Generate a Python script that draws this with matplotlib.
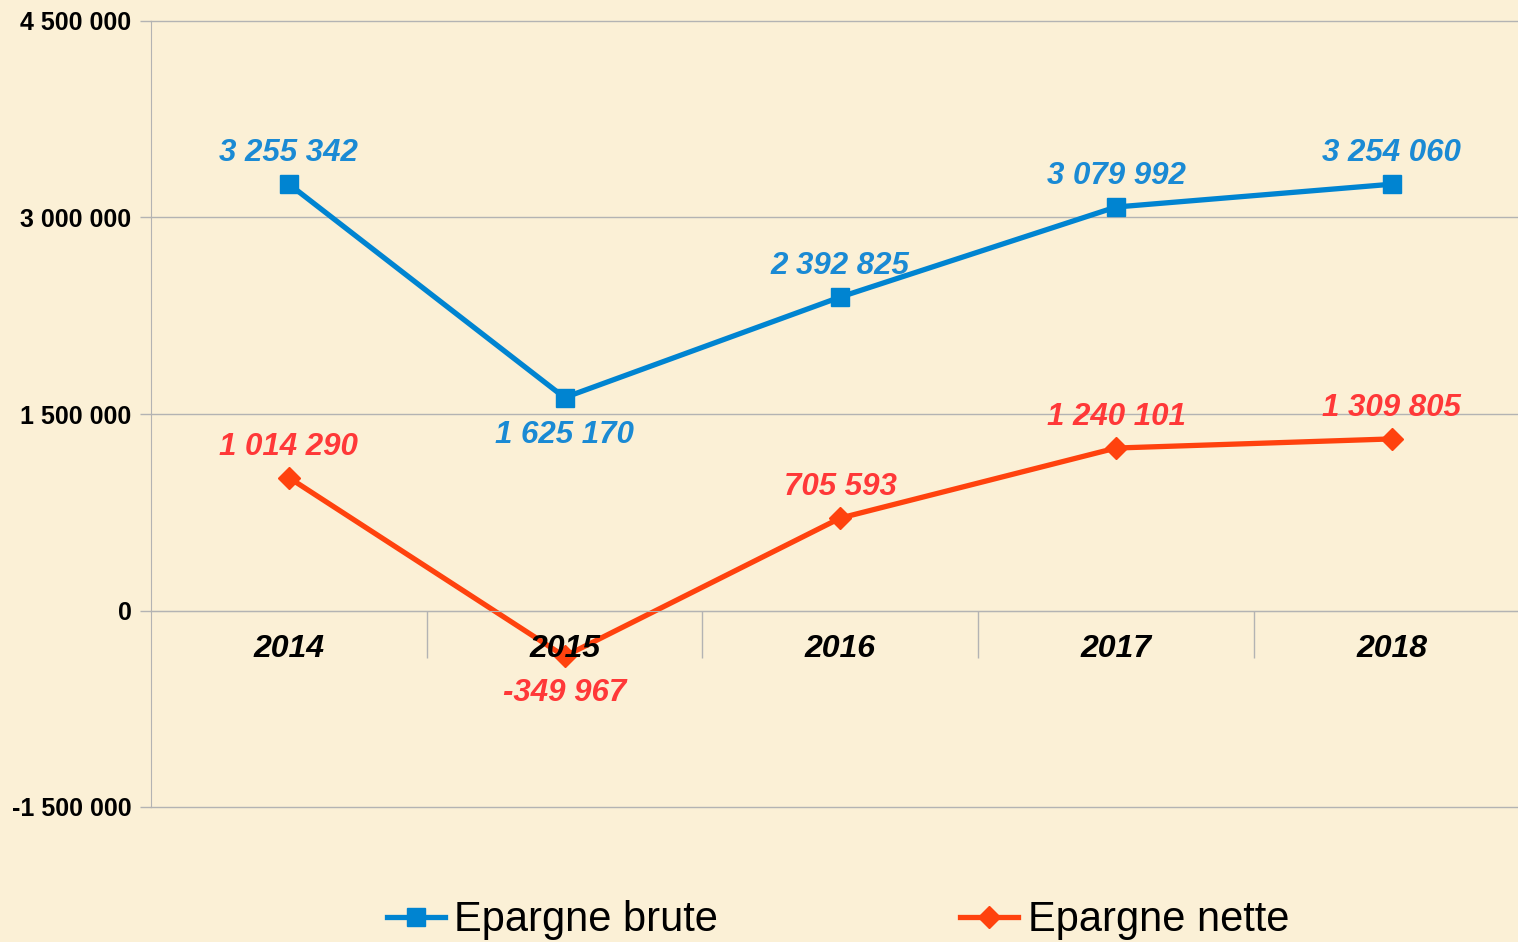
import matplotlib
matplotlib.use("Agg")
import matplotlib.pyplot as plt
from matplotlib.ticker import FuncFormatter, FixedLocator

# donnees
annees = ["2014", "2015", "2016", "2017", "2018"]
epargne_brute = [3255342, 1625170, 2392825, 3079992, 3254060]
epargne_nette = [1014290, -349967, 705593, 1240101, 1309805]
# position des etiquettes: 1 = au-dessus, -1 = en dessous
pos_brute = [1, -1, 1, 1, 1]
pos_nette = [1, -1, 1, 1, 1]
graduations = [-1500000, 0, 1500000, 3000000, 4500000]

plt.rcParams['font.family'] = ['Liberation Sans', 'DejaVu Sans']

FOND = '#fbf0d6'
GRIS = '#b3b3b3'
BLEU = '#0084d1'
BLEU_TXT = '#1a8ad4'
ROUGE = '#ff420e'
ROUGE_TXT = '#ff3838'


def milliers(v, _pos=None):
    return f"{v:,.0f}".replace(",", " ")


def decalage(p):
    # les chiffres n'ont pas de jambage: on compense le centrage vertical
    return 22.3 if p > 0 else -26.7


fig = plt.figure(figsize=(15.18, 9.42), dpi=100, facecolor=FOND)
ax = fig.add_axes([151 / 1518, 1 - 807 / 942, (1518 - 151) / 1518, (807 - 21) / 942])
ax.set_facecolor('none')

x = list(range(len(annees)))
l1, = ax.plot(x, epargne_brute, color=BLEU, lw=3.8, marker='s', ms=13.5,
              label='Epargne brute', zorder=2)
l2, = ax.plot(x, epargne_nette, color=ROUGE, lw=3.8, marker='D', ms=11,
              label='Epargne nette', zorder=2)

for xi, v, p in zip(x, epargne_brute, pos_brute):
    ax.annotate(milliers(v), (xi, v), xytext=(0, decalage(p)), textcoords='offset points',
                ha='center', va='center', fontsize=22.5, fontweight='bold',
                fontstyle='italic', color=BLEU_TXT)
for xi, v, p in zip(x, epargne_nette, pos_nette):
    ax.annotate(milliers(v), (xi, v), xytext=(0, decalage(p)), textcoords='offset points',
                ha='center', va='center', fontsize=22.5, fontweight='bold',
                fontstyle='italic', color=ROUGE_TXT)

ax.set_xlim(-0.5, -0.5 + (1518 - 151) / 275.7)
ax.set_ylim(graduations[0], graduations[-1])
ax.set_yticks(graduations)
ax.yaxis.set_major_formatter(FuncFormatter(milliers))
ax.grid(axis='y', color=GRIS, lw=1)
for gl in ax.get_ygridlines():
    gl.set_clip_on(False)
ax.set_axisbelow('line')
ax.xaxis.set_zorder(3)

for s in ['top', 'right']:
    ax.spines[s].set_visible(False)
ax.spines['left'].set_color(GRIS)
ax.spines['bottom'].set_color(GRIS)
ax.spines['bottom'].set_position(('data', 0))

ax.tick_params(axis='y', direction='out', length=8, width=1, color=GRIS, pad=6,
               labelsize=18)
for t in ax.get_yticklabels():
    t.set_fontweight('bold')

ax.set_xticks(x)
ax.set_xticklabels(annees, fontsize=23, fontweight='bold', fontstyle='italic')
ax.xaxis.set_minor_locator(FixedLocator([i + 0.5 for i in x]))
ax.tick_params(axis='x', which='major', length=0, pad=17)
ax.tick_params(axis='x', which='minor', direction='out', length=34, width=1, color=GRIS)

fig.legend(handles=[l1, l2], loc='center', bbox_to_anchor=(0.552, 0.023),
           ncol=2, frameon=False, fontsize=30, handlelength=1.4,
           handletextpad=0.22, columnspacing=5.8, borderpad=0)

fig.savefig("out.png", dpi=100, facecolor=FOND)
